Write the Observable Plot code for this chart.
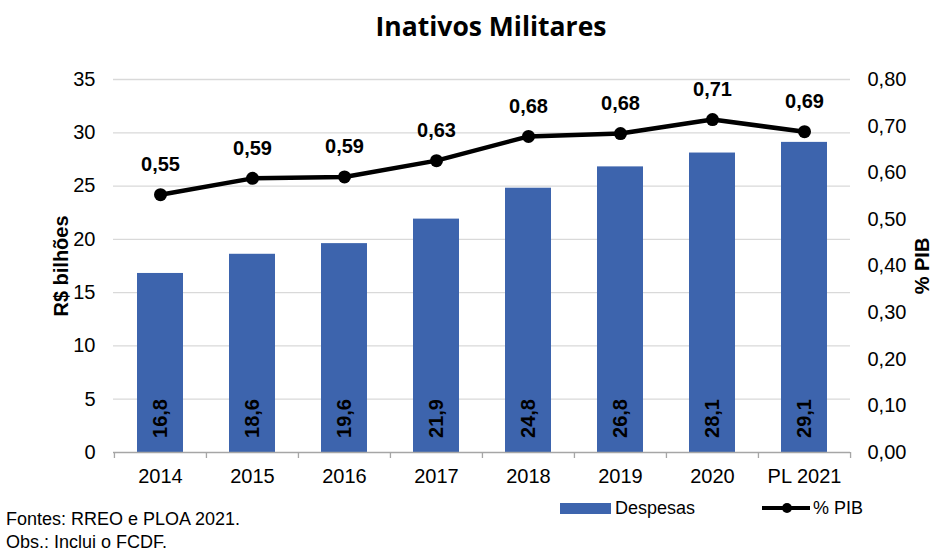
<!DOCTYPE html>
<html>
<head>
<meta charset="utf-8">
<script src="https://cdn.jsdelivr.net/npm/d3@7"></script>
<script src="https://cdn.jsdelivr.net/npm/@observablehq/plot@0.6"></script>
<style>
  html, body { margin: 0; padding: 0; background: #fff; }
  #wrap { position: relative; width: 933px; height: 551px; overflow: hidden; font-family: "Liberation Sans Narrow", "Arial Narrow", "Liberation Sans", sans-serif; }
  #title { position: absolute; top: 8px; left: 491px; transform: translateX(-50%); font-family: "Open Sans", sans-serif; font-weight: 700; font-size: 26.5px; white-space: nowrap; color: #000; }
  #chart { position: absolute; left: 0; top: 0; }
  .note { position: absolute; left: 6px; font-size: 18px; color: #000; white-space: nowrap; }
  .leg { position: absolute; font-size: 18px; color: #000; white-space: nowrap; }
  #chart svg [aria-label$="axis label"] text { font-weight: bold; }
</style>
</head>
<body>
<div id="wrap">
  <div id="title">Inativos Militares</div>
  <div id="chart"></div>
  <div class="note" style="top:509px">Fontes: RREO e PLOA 2021.</div>
  <div class="note" style="top:532px">Obs.: Inclui o FCDF.</div>
  <div style="position:absolute;left:560px;top:503px;width:51px;height:11px;background:#3d64ad"></div>
  <div class="leg" style="left:615px;top:498px">Despesas</div>
  <svg style="position:absolute;left:760px;top:500px" width="52" height="16">
    <line x1="2" y1="8" x2="50" y2="8" stroke="#000" stroke-width="4"/>
    <circle cx="27" cy="8" r="5" fill="#000"/>
  </svg>
  <div class="leg" style="left:813px;top:498px">% PIB</div>
</div>
<script>
const categories = ["2014", "2015", "2016", "2017", "2018", "2019", "2020", "PL 2021"];
const despesas = [16.8, 18.6, 19.6, 21.9, 24.8, 26.8, 28.1, 29.1];
const despesasLabels = ["16,8", "18,6", "19,6", "21,9", "24,8", "26,8", "28,1", "29,1"];
const pib = [0.553, 0.588, 0.591, 0.626, 0.678, 0.684, 0.714, 0.688];
const pibLabels = ["0,55", "0,59", "0,59", "0,63", "0,68", "0,68", "0,71", "0,69"];
const leftTicks = [0, 5, 10, 15, 20, 25, 30, 35];
const rightTicks = [0, 0.1, 0.2, 0.3, 0.4, 0.5, 0.6, 0.7, 0.8];

const yMax = 35, pMax = 0.8;
const toY = p => p * yMax / pMax;
const data = categories.map((c, i) => ({cat: c, v: despesas[i], vl: despesasLabels[i], p: toY(pib[i]), pl: pibLabels[i]}));

const W = 933, ML = 113, MR = 83;
const halfStep = (W - ML - MR) / categories.length / 2;
const grey = "#a6a6a6";

const chart = Plot.plot({
  width: W,
  height: 500,
  marginTop: 79,
  marginBottom: 48,
  marginLeft: ML,
  marginRight: MR,
  style: {fontFamily: '"Liberation Sans Narrow", "Arial Narrow", sans-serif', fontSize: "20px", color: "#000", background: "transparent"},
  x: {domain: categories, paddingInner: 0.5, paddingOuter: 0.25, label: null},
  y: {domain: [0, yMax], label: null},
  marks: [
    Plot.gridY(leftTicks.slice(1), {stroke: "#d9d9d9", strokeOpacity: 1, strokeWidth: 1.3}),
    Plot.barY(data, {x: "cat", y: "v", fill: "#3d64ad"}),
    Plot.ruleY([0], {stroke: grey, strokeWidth: 1.3}),
    Plot.axisY(leftTicks, {anchor: "left", tickSize: 0, tickPadding: 18, label: "R$ bilhões", labelAnchor: "center", labelOffset: 60, labelArrow: "none", fontSize: 20}),
    Plot.axisY(rightTicks.map(toY), {anchor: "right", tickSize: 0, tickPadding: 17, tickFormat: d => (d * pMax / yMax).toFixed(2).replace(".", ","), label: "% PIB", labelAnchor: "center", labelOffset: 78, labelArrow: "none", fontSize: 20}),
    Plot.axisX({tickSize: 0, tickPadding: 16, fontSize: 20}),
    Plot.axisX({tickSize: 6, text: null, dx: -halfStep, stroke: grey, strokeWidth: 1.3}),
    Plot.axisX([categories[categories.length - 1]], {tickSize: 6, text: null, dx: halfStep, stroke: grey, strokeWidth: 1.3}),
    Plot.text(data, {x: "cat", y: 0, text: "vl", rotate: -90, dy: -34, fontWeight: "bold", fontSize: 20, fill: "#000"}),
    Plot.line(data, {x: "cat", y: "p", stroke: "#000", strokeWidth: 4.5}),
    Plot.dot(data, {x: "cat", y: "p", r: 6.5, fill: "#000", stroke: null}),
    Plot.text(data, {x: "cat", y: "p", text: "pl", dy: -30, fontWeight: "bold", fontSize: 20, fill: "#000"})
  ]
});
document.getElementById("chart").appendChild(chart);
</script>
</body>
</html>
